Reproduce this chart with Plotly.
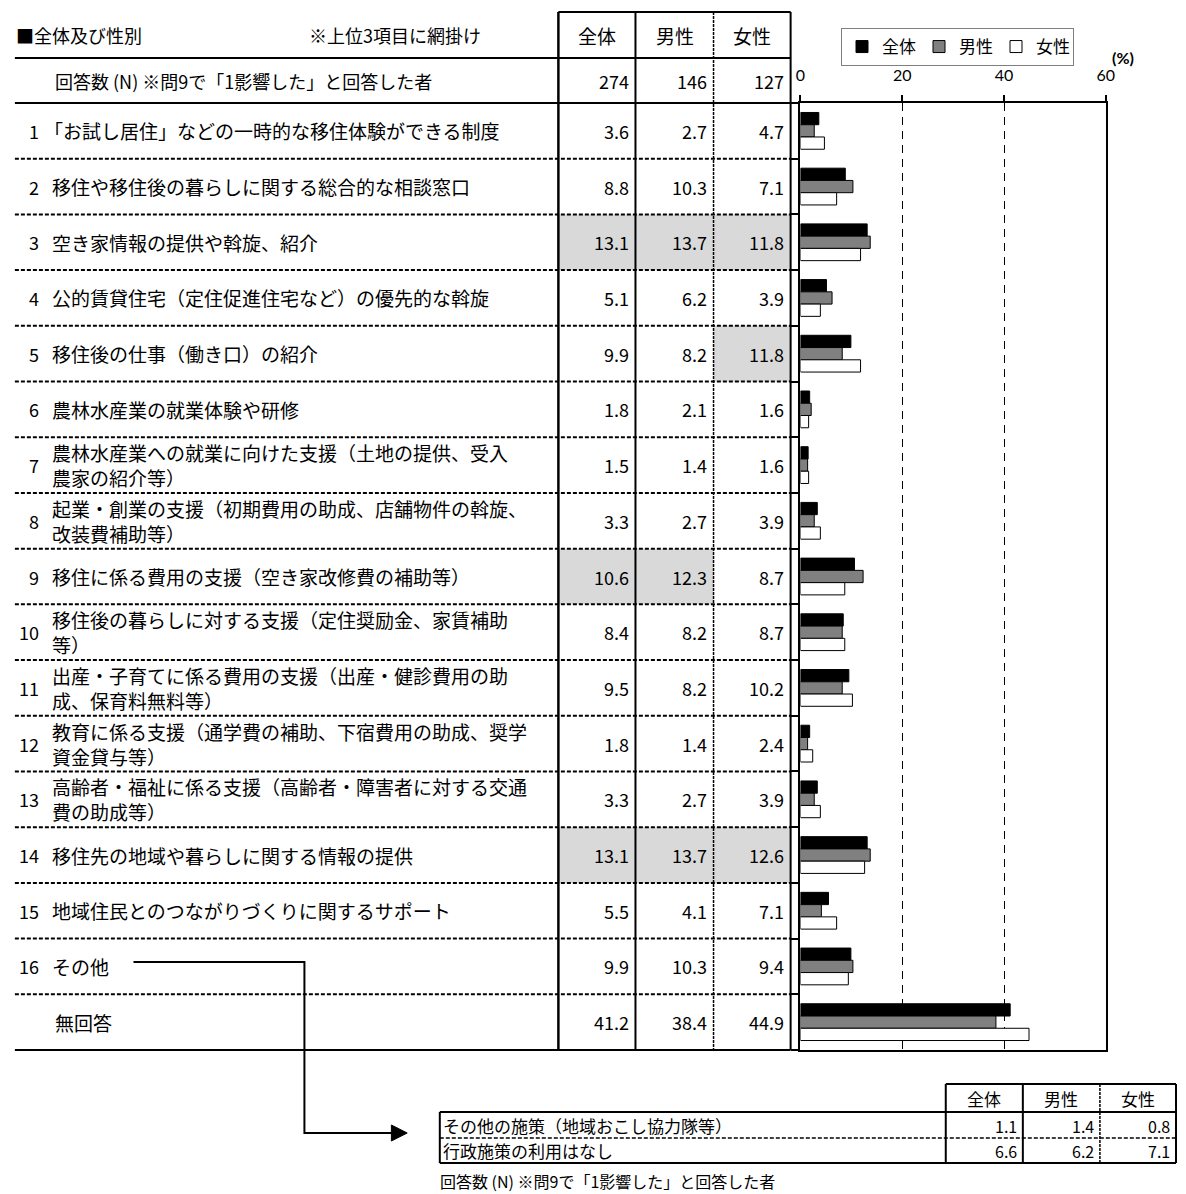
import plotly.graph_objects as go

W, H = 1186, 1194


def px(x):
    return x / W


def py(y):
    return 1 - y / H


JP = "Noto Sans CJK JP"
LAT = "Lato"

# ---- data ----
series = ["全体", "男性", "女性"]
row_numbers = [str(i) for i in range(1, 17)] + [""]
row_labels = [
    ["「お試し居住」などの一時的な移住体験ができる制度"],
    ["移住や移住後の暮らしに関する総合的な相談窓口"],
    ["空き家情報の提供や斡旋、紹介"],
    ["公的賃貸住宅（定住促進住宅など）の優先的な斡旋"],
    ["移住後の仕事（働き口）の紹介"],
    ["農林水産業の就業体験や研修"],
    ["農林水産業への就業に向けた支援（土地の提供、受入", "農家の紹介等）"],
    ["起業・創業の支援（初期費用の助成、店舗物件の斡旋、", "改装費補助等）"],
    ["移住に係る費用の支援（空き家改修費の補助等）"],
    ["移住後の暮らしに対する支援（定住奨励金、家賃補助", "等）"],
    ["出産・子育てに係る費用の支援（出産・健診費用の助", "成、保育料無料等）"],
    ["教育に係る支援（通学費の補助、下宿費用の助成、奨学", "資金貸与等）"],
    ["高齢者・福祉に係る支援（高齢者・障害者に対する交通", "費の助成等）"],
    ["移住先の地域や暮らしに関する情報の提供"],
    ["地域住民とのつながりづくりに関するサポート"],
    ["その他"],
    ["無回答"],
]
total = [3.6, 8.8, 13.1, 5.1, 9.9, 1.8, 1.5, 3.3, 10.6, 8.4, 9.5, 1.8, 3.3, 13.1, 5.5, 9.9, 41.2]
male = [2.7, 10.3, 13.7, 6.2, 8.2, 2.1, 1.4, 2.7, 12.3, 8.2, 8.2, 1.4, 2.7, 13.7, 4.1, 10.3, 38.4]
female = [4.7, 7.1, 11.8, 3.9, 11.8, 1.6, 1.6, 3.9, 8.7, 8.7, 10.2, 2.4, 3.9, 12.6, 7.1, 9.4, 44.9]
respondents = [274, 146, 127]

other_items = ["その他の施策（地域おこし協力隊等）", "行政施策の利用はなし"]
other_total = [1.1, 6.6]
other_male = [1.4, 6.2]
other_female = [0.8, 7.1]

x_ticks = [0, 20, 40, 60]

columns = [total, male, female]
bar_colors = ["#000000", "#808080", "#ffffff"]
rows = list(range(len(row_labels)))

# ---- layout geometry (pixels) ----
COL_EDGES = [560, 638, 717, 795]
TABLE_LEFT = 10
PLOT_X0, PLOT_X1 = 805, 1114
PLOT_Y0, PLOT_Y1 = 103, 1050

fig = go.Figure()
for name, vals, col in zip(series, columns, bar_colors):
    fig.add_trace(go.Bar(
        y=rows, x=vals, name=name, orientation="h",
        marker=dict(color=col, line=dict(color="#000000", width=1)),
        hoverinfo="x+name",
    ))

shapes = []
annotations = []


def hline(y0, x0, x1, width=2, dash="solid", yref="paper"):
    yy = py(y0) if yref == "paper" else y0
    shapes.append(dict(type="line", xref="paper", yref=yref, x0=px(x0), x1=px(x1),
                       y0=yy, y1=yy, line=dict(color="#000000", width=width, dash=dash)))


def vline(x, y0, y1, width=2, dash="solid"):
    shapes.append(dict(type="line", xref="paper", yref="paper", x0=px(x), x1=px(x),
                       y0=py(y0), y1=py(y1), line=dict(color="#000000", width=width, dash=dash)))


def text(x, y, s, size=19, anchor="left", yref="paper", font=JP, color="#000000"):
    annotations.append(dict(x=px(x), y=(py(y) if yref == "paper" else y), xref="paper", yref=yref,
                            text=s, showarrow=False, xanchor=anchor, yanchor="middle",
                            align="left", font=dict(family=font, size=size, color=color)))


# top-3 shading per column (items 1-16)
for c, vals in enumerate(columns):
    ranked = sorted(vals[:16], reverse=True)
    cut = ranked[2]
    for r in range(16):
        if vals[r] >= cut:
            shapes.append(dict(type="rect", xref="paper", yref="y", layer="below",
                               x0=px(COL_EDGES[c]), x1=px(COL_EDGES[c + 1]),
                               y0=r - 0.5, y1=r + 0.5, fillcolor="#d9d9d9",
                               line=dict(width=0)))

# table rules
shapes.append(dict(type="line", xref="paper", yref="paper", x0=px(560), x1=px(795),
                   y0=py(12), y1=py(12), line=dict(color="#000000", width=2)))
hline(58, TABLE_LEFT, 795)
hline(103, TABLE_LEFT, 795)
hline(1050, TABLE_LEFT, 795)
for k in range(len(rows) - 1):
    hline(k + 0.5, TABLE_LEFT, 795, width=2, dash="4px,2px", yref="y")
vline(560, 12, 1050, width=2.5)
vline(638, 12, 1050, width=2)
vline(717, 12, 1050, width=1.5, dash="3px,1px")
vline(795, 12, 1050, width=2)

# header texts
text(9, 35, "■全体及び性別", size=18)
text(306, 35, "※上位3項目に網掛け", size=18)
for c, name in enumerate(series):
    text((COL_EDGES[c] + COL_EDGES[c + 1]) / 2, 35, name, size=19, anchor="center")
text(49, 81, "回答数 (N) ※問9で「1影響した」と回答した者", size=18)
for c, n in enumerate(respondents):
    text(COL_EDGES[c + 1] - 5, 81, str(n), size=18, anchor="right")

# body rows
for r in rows:
    lines = row_labels[r]
    if row_numbers[r]:
        text(36, r, row_numbers[r], size=18, anchor="right", yref="y")
    start = 37 if lines[0].startswith("「") else 46
    if not row_numbers[r]:
        start = 49
    text(start, r, "<br>".join(lines), size=19, yref="y")
    for c, vals in enumerate(columns):
        text(COL_EDGES[c + 1] - 5, r, f"{vals[r]:.1f}", size=18, anchor="right", yref="y")

# percent unit
annotations.append(dict(x=px(1131), y=py(57), xref="paper", yref="paper", text="<b>(%)</b>",
                        showarrow=False, xanchor="center", yanchor="middle",
                        font=dict(family=LAT, size=16, color="#000000")))

# connector from item 16 to the breakdown table
shapes.append(dict(type="path", xref="paper", yref="paper",
                   path=f"M {px(130)} {py(962)} L {px(303)} {py(962)} L {px(303)} {py(1133)} L {px(393)} {py(1133)}",
                   line=dict(color="#000000", width=2)))
shapes.append(dict(type="path", xref="paper", yref="paper",
                   path=f"M {px(391)} {py(1125)} L {px(407)} {py(1133)} L {px(391)} {py(1141)} Z",
                   fillcolor="#000000", line=dict(color="#000000", width=1)))

# breakdown table for その他
B_COLS = [952, 1030, 1108, 1185]
shapes.append(dict(type="line", xref="paper", yref="paper", x0=px(952), x1=px(1185),
                   y0=py(1084), y1=py(1084), line=dict(color="#000000", width=2)))
hline(1112, 440, 1185, width=2)
hline(1138, 440, 1185, width=1.5, dash="4px,2px")
hline(1163, 440, 1185, width=2)
vline(440, 1112, 1163, width=2)
vline(952, 1084, 1163, width=2)
vline(1030, 1084, 1163, width=2)
vline(1108, 1084, 1163, width=1.5, dash="3px,1px")
vline(1185, 1084, 1163, width=2)
for c, name in enumerate(series):
    text((B_COLS[c] + B_COLS[c + 1]) / 2, 1098, name, size=17, anchor="center")
for i, lab in enumerate(other_items):
    yc = 1125.5 + i * 25
    text(441, yc, lab, size=17)
    for c, vals in enumerate([other_total, other_male, other_female]):
        text(B_COLS[c + 1] - 4, yc, f"{vals[i]:.1f}", size=16, anchor="right")
text(438, 1181, "回答数 (N) ※問9で「1影響した」と回答した者", size=16)

fig.update_layout(
    width=W, height=H, autosize=False,
    margin=dict(l=0, r=0, t=0, b=0),
    paper_bgcolor="#ffffff", plot_bgcolor="#ffffff",
    barmode="group", bargap=0.34, bargroupgap=0.0,
    shapes=shapes, annotations=annotations,
    showlegend=True,
    legend=dict(orientation="h", x=px(846), y=py(28), xanchor="left", yanchor="top",
                bordercolor="#7f7f7f", borderwidth=1, bgcolor="#ffffff",
                font=dict(family=JP, size=17, color="#000000"),
                itemwidth=30, entrywidth=32, entrywidthmode="pixels",
                traceorder="normal", tracegroupgap=0),
    xaxis=dict(domain=[px(PLOT_X0), px(PLOT_X1)], range=[0, 60], side="top",
               tickvals=x_ticks, ticks="outside", ticklen=6, tickwidth=1.5, tickcolor="#000000",
               ticklabelstandoff=8,
               tickfont=dict(family=LAT, size=16, color="#000000"),
               showgrid=True, gridcolor="#000000", gridwidth=1.3, griddash="8px,6px",
               showline=True, linecolor="#000000", linewidth=1.5, mirror=True,
               zeroline=False, fixedrange=True),
    yaxis=dict(domain=[py(PLOT_Y1), py(PLOT_Y0)], range=[16.5, -0.5],
               tickvals=[k - 0.5 for k in range(len(rows) + 1)], ticks="outside", ticklen=8,
               tickwidth=1.5, tickcolor="#000000", showticklabels=False,
               showgrid=False, zeroline=False,
               showline=True, linecolor="#000000", linewidth=1.5, mirror=True, fixedrange=True),
)

fig.write_html("out.html")
